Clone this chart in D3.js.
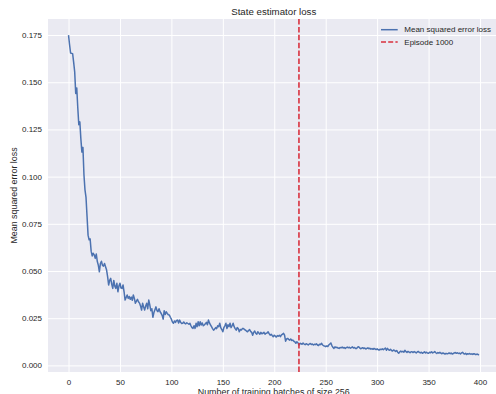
<!DOCTYPE html>
<html><head><meta charset="utf-8">
<script src="https://cdn.jsdelivr.net/npm/d3@7"></script>
<style>html,body{margin:0;padding:0;background:#fff;overflow:hidden}svg{display:block}</style>
</head><body><svg id="c" width="496" height="394"></svg>
<script>
const title = "State estimator loss";
const xLabel = "Number of training batches of size 256";
const yLabel = "Mean squared error loss";
const seriesNames = ["Mean squared error loss", "Episode 1000"];
const episodeMarker = 224;
const xTicks = [0, 50, 100, 150, 200, 250, 300, 350, 400];
const yTicks = [0.000, 0.025, 0.050, 0.075, 0.100, 0.125, 0.150, 0.175];
const loss = [
0.175,0.1700,0.1655,0.1653,0.1651,0.1605,0.1555,0.1440,0.1470,0.1365,
0.1275,0.1290,0.1200,0.1130,0.1155,0.1010,0.0930,0.0890,0.0790,0.0690,
0.0665,0.0670,0.0605,0.0580,0.0594,0.0585,0.0567,0.0590,0.0550,0.0530,
0.0496,0.0540,0.0552,0.0530,0.0526,0.0540,0.0523,0.0505,0.0470,0.0426,
0.0450,0.0461,0.0430,0.0408,0.0450,0.0420,0.0408,0.0435,0.0390,0.0420,
0.0435,0.0410,0.0408,0.0426,0.0390,0.0346,0.0360,0.0373,0.0355,0.0365,
0.0350,0.0362,0.0345,0.0373,0.0355,0.0329,0.0340,0.0350,0.0337,0.0330,
0.0315,0.0293,0.0329,0.0310,0.0293,0.0315,0.0329,0.0300,0.0346,0.0320,
0.0290,0.0300,0.0255,0.0280,0.0295,0.0310,0.0290,0.0285,0.0300,0.0284,
0.0276,0.0265,0.0245,0.0290,0.0270,0.0284,0.0275,0.0268,0.0267,0.0255,
0.0245,0.0230,0.0223,0.0235,0.0228,0.0238,0.0240,0.0225,0.0240,0.0228,
0.0222,0.0223,0.0230,0.0223,0.0220,0.0226,0.0222,0.0218,0.0223,0.0210,
0.0200,0.0196,0.0210,0.0196,0.0223,0.0205,0.0231,0.0210,0.0231,0.0214,
0.0225,0.0210,0.0214,0.0220,0.0228,0.0215,0.0240,0.0225,0.0215,0.0205,
0.0195,0.0187,0.0192,0.0200,0.0195,0.0210,0.0205,0.0223,0.0200,0.0190,
0.0178,0.0200,0.0210,0.0223,0.0195,0.0215,0.0205,0.0223,0.0200,0.0210,
0.0223,0.0205,0.0195,0.0187,0.0200,0.0195,0.0178,0.0190,0.0187,0.0195,
0.0196,0.0190,0.0187,0.0182,0.0178,0.0185,0.0190,0.0180,0.0175,0.0160,
0.0175,0.0182,0.0170,0.0165,0.0178,0.0172,0.0165,0.0175,0.0168,0.0170,
0.0175,0.0165,0.0170,0.0172,0.0178,0.0168,0.0160,0.0165,0.0158,0.0152,
0.0160,0.0155,0.0150,0.0158,0.0155,0.0160,0.0152,0.0162,0.0165,0.0170,
0.0160,0.0128,0.0140,0.0143,0.0138,0.0134,0.0140,0.0132,0.0134,0.0128,
0.0125,0.0117,0.0125,0.0120,0.0108,0.0117,0.0115,0.0112,0.0118,0.0113,
0.0110,0.0115,0.0112,0.0108,0.0113,0.0116,0.0111,0.0113,0.0108,0.0112,
0.0110,0.0114,0.0108,0.0105,0.0112,0.0110,0.0117,0.0108,0.0104,0.0102,
0.0099,0.0103,0.0100,0.0108,0.0113,0.0119,0.0105,0.0096,0.0090,0.0098,
0.0094,0.0096,0.0092,0.0090,0.0095,0.0093,0.0097,0.0092,0.0095,0.0090,
0.0094,0.0097,0.0093,0.0096,0.0091,0.0094,0.0098,0.0092,0.0095,0.0090,
0.0090,0.0096,0.0099,0.0093,0.0088,0.0091,0.0094,0.0089,0.0092,0.0087,
0.0090,0.0093,0.0088,0.0091,0.0086,0.0089,0.0085,0.0090,0.0087,0.0084,
0.0088,0.0083,0.0081,0.0086,0.0084,0.0088,0.0083,0.0087,0.0092,0.0080,
0.0090,0.0084,0.0080,0.0085,0.0079,0.0076,0.0082,0.0078,0.0074,0.0079,
0.0070,0.0064,0.0072,0.0076,0.0071,0.0075,0.0070,0.0080,0.0073,0.0069,
0.0074,0.0071,0.0067,0.0072,0.0072,0.0068,0.0073,0.0070,0.0066,0.0071,
0.0074,0.0069,0.0066,0.0070,0.0064,0.0068,0.0072,0.0066,0.0070,0.0065,
0.0064,0.0070,0.0067,0.0072,0.0066,0.0069,0.0073,0.0067,0.0063,0.0068,
0.0065,0.0069,0.0064,0.0062,0.0066,0.0063,0.0060,0.0064,0.0061,0.0063,
0.0066,0.0062,0.0065,0.0060,0.0063,0.0066,0.0068,0.0064,0.0067,0.0063,
0.0065,0.0061,0.0066,0.0069,0.0063,0.0060,0.0064,0.0058,0.0062,0.0060,
0.0063,0.0059,0.0061,0.0058,0.0062,0.0060,0.0057,0.0060,0.0058,0.0055
];

const W = 496, H = 394;
const plot = {left: 48, top: 19, right: 499.5, bottom: 372};
const FONT = "'Liberation Sans', Arial, sans-serif";
const TXT = "#262626";
const BLUE = "#4C72B0", RED = "#d9303e";

const svg = d3.select("#c");
const x = d3.scaleLinear().domain([-19.95, 418.95]).range([plot.left, plot.right]);
const y = d3.scaleLinear().domain([-0.0035, 0.1835]).range([plot.bottom, plot.top]);

svg.append("defs").append("clipPath").attr("id","clip")
  .append("rect").attr("x",plot.left).attr("y",plot.top)
  .attr("width",plot.right-plot.left).attr("height",plot.bottom-plot.top);

svg.append("rect").attr("x",plot.left).attr("y",plot.top)
  .attr("width",plot.right-plot.left).attr("height",plot.bottom-plot.top)
  .attr("fill","#EAEAF2");

// grid
const gx = svg.append("g").attr("transform",`translate(0,${plot.bottom})`)
  .call(d3.axisBottom(x).tickValues(xTicks).tickSize(-(plot.bottom-plot.top)).tickFormat(d3.format("d")).tickPadding(7));
gx.select(".domain").remove();
gx.selectAll(".tick line").attr("stroke","#fff").attr("stroke-width",1);
gx.selectAll(".tick text").attr("fill",TXT).style("font-family",FONT).style("font-size","8px");

const gy = svg.append("g").attr("transform",`translate(${plot.left},0)`)
  .call(d3.axisLeft(y).tickValues(yTicks).tickSize(-(plot.right-plot.left)).tickFormat(d3.format(".3f")).tickPadding(6));
gy.select(".domain").remove();
gy.selectAll(".tick line").attr("stroke","#fff").attr("stroke-width",1);
gy.selectAll(".tick text").attr("fill",TXT).style("font-family",FONT).style("font-size","8px");

const g = svg.append("g").attr("clip-path","url(#clip)");
const line = d3.line().x((d,i)=>x(i)).y(d=>y(d));
g.append("path").datum(loss).attr("d",line).attr("fill","none")
  .attr("stroke",BLUE).attr("stroke-width",1.5).attr("stroke-linejoin","round");

g.append("line").attr("x1",x(episodeMarker)).attr("x2",x(episodeMarker))
  .attr("y1",plot.top).attr("y2",plot.bottom)
  .attr("stroke",RED).attr("stroke-width",1.6).attr("stroke-dasharray","5.5,2.4");

// title & labels
svg.append("text").attr("x",(plot.left+plot.right)/2).attr("y",14.6)
  .attr("text-anchor","middle").attr("fill",TXT).style("font-family",FONT).style("font-size","9.7px").text(title);
svg.append("text").attr("x",(plot.left+plot.right)/2).attr("y",394.8)
  .attr("text-anchor","middle").attr("fill",TXT).style("font-family",FONT).style("font-size","8.9px").text(xLabel);
svg.append("text").attr("transform",`translate(16.5,${(plot.top+plot.bottom)/2}) rotate(-90)`)
  .attr("text-anchor","middle").attr("fill",TXT).style("font-family",FONT).style("font-size","8.9px").text(yLabel);

// legend
const leg = svg.append("g");
const rows = [{name: seriesNames[0], color: BLUE, dash: null},{name: seriesNames[1], color: RED, dash:"5,2.2"}];
rows.forEach((r,k)=>{
  const yy = 29.7 + k*12.3;
  leg.append("line").attr("x1",381).attr("x2",397.7).attr("y1",yy).attr("y2",yy)
    .attr("stroke",r.color).attr("stroke-width",1.5).attr("stroke-dasharray",r.dash);
  leg.append("text").attr("x",404.3).attr("y",yy).attr("dy","0.33em")
    .attr("fill",TXT).style("font-family",FONT).style("font-size","8px").text(r.name);
});
</script></body></html>
